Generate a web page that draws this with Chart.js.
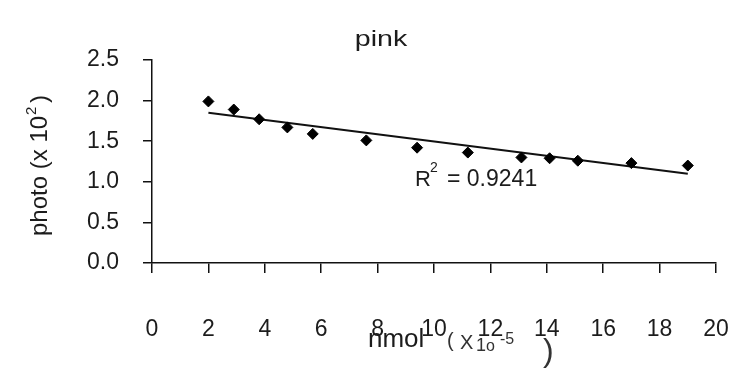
<!DOCTYPE html>
<html>
<head>
<meta charset="utf-8">
<script src="https://cdn.jsdelivr.net/npm/chart.js@4/dist/chart.umd.min.js"></script>
<style>
  html, body { margin: 0; padding: 0; background: #ffffff; }
  #wrap { width: 738px; height: 371px; position: relative; }
</style>
</head>
<body>
<div id="wrap"><canvas id="c" width="738" height="371"></canvas></div>
<script>
// ---- data ----
const chartTitle = "pink";
const nmolValues = [2.0, 2.9, 3.8, 4.8, 5.7, 7.6, 9.4, 11.2, 13.1, 14.1, 15.1, 17.0, 19.0];
const photoValues = [1.99, 1.89, 1.77, 1.67, 1.59, 1.51, 1.42, 1.36, 1.30, 1.29, 1.26, 1.23, 1.20];
const trendNmol = [2.0, 19.0];
const trendPhoto = [1.85, 1.10];
const rSquaredText = "0.9241";
const xTickValues = [0, 2, 4, 6, 8, 10, 12, 14, 16, 18, 20];
const yTickValues = [0.0, 0.5, 1.0, 1.5, 2.0, 2.5];

const FONT = "'Liberation Sans', Arial, sans-serif";
const INK = "#1c1c1c";

const points = nmolValues.map((x, i) => ({ x: x, y: photoValues[i] }));
const trend = trendNmol.map((x, i) => ({ x: x, y: trendPhoto[i] }));

function txt(ctx, s, x, y, size, opts) {
  opts = opts || {};
  ctx.save();
  ctx.font = (opts.weight || "normal") + " " + size + "px " + FONT;
  ctx.fillStyle = opts.color || INK;
  ctx.textAlign = opts.align || "left";
  ctx.textBaseline = "alphabetic";
  ctx.translate(x, y);
  if (opts.rot) ctx.rotate(opts.rot);
  if (opts.sx) ctx.scale(opts.sx, 1);
  ctx.fillText(s, 0, 0);
  ctx.restore();
}

const textPlugin = {
  id: "textPlugin",
  afterDraw(chart) {
    const ctx = chart.ctx;
    // title
    txt(ctx, chartTitle, 381, 46, 22, { align: "center", sx: 1.3 });
    // y axis title (rotated) : photo (x 10^2)
    ctx.save();
    ctx.translate(47, 236);
    ctx.rotate(-Math.PI / 2);
    ctx.font = "24px " + FONT;
    ctx.fillStyle = INK;
    ctx.textBaseline = "alphabetic";
    const base = "photo (x 10";
    ctx.fillText(base, 0, 0);
    const w = ctx.measureText(base).width;
    ctx.font = "15px " + FONT;
    ctx.fillText("2", w + 1, -11);
    ctx.font = "24px " + FONT;
    ctx.fillText(")", w + 13, 0);
    ctx.restore();
    // x axis title
    txt(ctx, "nmol", 368, 347, 26);
    // handwritten unit note
    txt(ctx, "(", 447, 347, 20, { color: "#333" });
    txt(ctx, "X", 460, 349, 20, { color: "#333" });
    txt(ctx, "1", 476, 351, 18, { color: "#333" });
    txt(ctx, "o", 486, 351, 16, { color: "#333" });
    txt(ctx, "-5", 500, 344, 16, { color: "#333" });
    txt(ctx, ")", 543, 361, 32, { color: "#333" });
    // R^2 label
    txt(ctx, "R", 415, 186, 22);
    txt(ctx, "2", 430, 172, 14);
    txt(ctx, "= " + rSquaredText, 447, 186, 23);
  }
};

new Chart(document.getElementById("c"), {
  type: "scatter",
  data: {
    datasets: [
      {
        label: "trend",
        data: trend,
        showLine: true,
        borderColor: "#111",
        borderWidth: 2,
        pointRadius: 0,
        order: 2
      },
      {
        label: "pink",
        data: points,
        pointStyle: "rectRot",
        pointRadius: 5.5,
        pointBackgroundColor: "#000",
        pointBorderColor: "#000",
        pointBorderWidth: 1,
        order: 1
      }
    ]
  },
  options: {
    responsive: false,
    animation: false,
    layout: { padding: { top: 60, right: 22, left: 0, bottom: 0 } },
    plugins: {
      legend: { display: false },
      tooltip: { enabled: false },
      title: { display: false }
    },
    scales: {
      x: {
        type: "linear",
        min: 0,
        max: 20,
        afterBuildTicks(scale) { scale.ticks = xTickValues.map(v => ({ value: v })); },
        afterFit(scale) {
          scale.height = 108;
          scale.paddingLeft = 0;
          scale.paddingRight = 0;
        },
        border: { display: true, color: "#111", width: 1.5 },
        grid: { drawOnChartArea: false, drawTicks: true, tickLength: 10, color: "#111", lineWidth: 1.5 },
        ticks: {
          color: INK,
          font: { family: FONT, size: 23 },
          padding: 43,
          maxRotation: 0,
          autoSkip: false,
          callback: v => String(v)
        }
      },
      y: {
        type: "linear",
        min: 0,
        max: 2.5,
        afterBuildTicks(scale) { scale.ticks = yTickValues.map(v => ({ value: v })); },
        afterFit(scale) {
          scale.width = 152;
          scale.paddingTop = 0;
          scale.paddingBottom = 0;
        },
        border: { display: true, color: "#111", width: 1.5 },
        grid: { drawOnChartArea: false, drawTicks: true, tickLength: 9, color: "#111", lineWidth: 1.5 },
        ticks: {
          color: INK,
          font: { family: FONT, size: 23 },
          padding: 24,
          autoSkip: false,
          callback: v => Number(v).toFixed(1)
        }
      }
    }
  },
  plugins: [textPlugin]
});
</script>
</body>
</html>
